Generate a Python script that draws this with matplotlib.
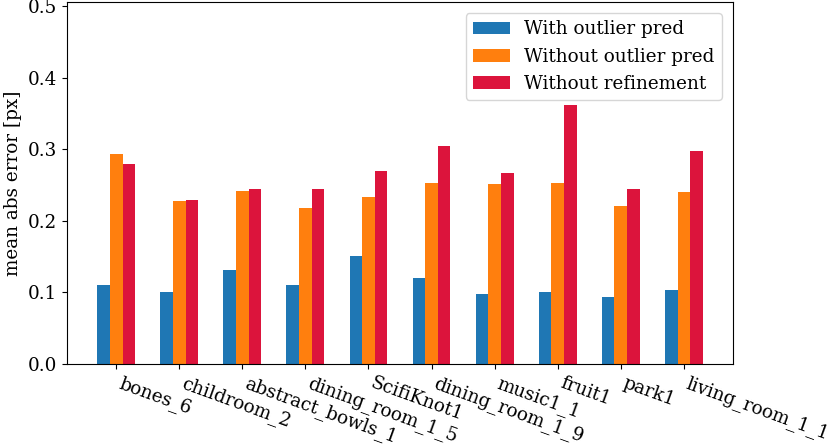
import numpy as np
import matplotlib
matplotlib.use("Agg")
import matplotlib.pyplot as plt

plt.rcParams['font.family'] = 'DejaVu Serif'
plt.rcParams['font.size'] = 13.2

scenes = ['bones_6', 'childroom_2', 'abstract_bowls_1', 'dining_room_1_5', 'ScifiKnot1',
          'dining_room_1_9', 'music1_1', 'fruit1', 'park1', 'living_room_1_1']
with_outlier = [0.110, 0.101, 0.131, 0.111, 0.151, 0.120, 0.098, 0.101, 0.094, 0.104]
without_outlier = [0.293, 0.227, 0.242, 0.218, 0.233, 0.253, 0.251, 0.253, 0.221, 0.240]
without_refine = [0.280, 0.229, 0.245, 0.245, 0.269, 0.304, 0.267, 0.362, 0.245, 0.297]

x = np.arange(len(scenes))
w = 0.2

fig = plt.figure(figsize=(8.31, 4.46), dpi=100)
ax = fig.add_axes([67 / 831, 1 - 364 / 446, 666 / 831, 362 / 446])
ax.bar(x - w, with_outlier, w, label='With outlier pred', color='#1f77b4')
ax.bar(x, without_outlier, w, label='Without outlier pred', color='#ff7f0e')
ax.bar(x + w, without_refine, w, label='Without refinement', color='crimson')

ax.set_xticks(x)
ax.set_xticklabels(scenes, rotation=-20, ha='left')
ax.set_ylim(0, 0.5056)
ax.set_ylabel('mean abs error [px]')
ax.legend(loc='upper right', borderaxespad=0.6)

fig.savefig('out.png')
